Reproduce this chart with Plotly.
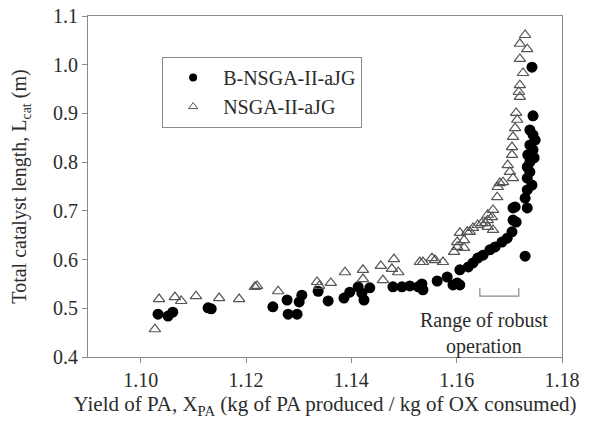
import plotly.graph_objects as go

# B-NSGA-II-aJG (filled circles)
b_x = [1.1033, 1.1052, 1.1061, 1.1128, 1.1134, 1.1251, 1.1278, 1.1280, 1.1297, 1.1301,
       1.1306, 1.1337, 1.1356, 1.1386, 1.1397, 1.1413, 1.1420, 1.1424, 1.1435, 1.1479,
       1.1496, 1.1511, 1.1527, 1.1534, 1.1536, 1.1563, 1.1582, 1.1593, 1.1601, 1.1606,
       1.1606, 1.1622, 1.1631, 1.1640, 1.1650, 1.1663, 1.1673, 1.1686, 1.1696, 1.1705,
       1.1713, 1.1711, 1.1707, 1.1707, 1.1734, 1.1730, 1.1743, 1.1745, 1.1739, 1.1745,
       1.1749, 1.1739, 1.1745, 1.1735, 1.1747, 1.1739, 1.1734, 1.1739, 1.1734, 1.1743,
       1.1734, 1.1730]
b_y = [0.488, 0.484, 0.492, 0.501, 0.499, 0.503, 0.517, 0.488, 0.488, 0.513,
       0.527, 0.535, 0.515, 0.521, 0.533, 0.544, 0.531, 0.517, 0.542, 0.544,
       0.544, 0.546, 0.544, 0.550, 0.538, 0.556, 0.564, 0.548, 0.552, 0.548,
       0.579, 0.585, 0.593, 0.603, 0.609, 0.620, 0.626, 0.636, 0.644, 0.657,
       0.677, 0.708, 0.706, 0.681, 0.706, 0.607, 0.995, 0.895, 0.866, 0.856,
       0.845, 0.835, 0.825, 0.815, 0.809, 0.800, 0.790, 0.780, 0.767, 0.753,
       0.743, 0.726]

# NSGA-II-aJG (open triangles)
n_x = [1.1027, 1.1035, 1.1065, 1.1077, 1.1105, 1.1149, 1.1187, 1.1217, 1.1221, 1.1261,
       1.1335, 1.1339, 1.1361, 1.1388, 1.1422, 1.1422, 1.1456, 1.1460, 1.1477, 1.1481,
       1.1489, 1.1530, 1.1536, 1.1553, 1.1559, 1.1574, 1.1595, 1.1601, 1.1606, 1.1614,
       1.1620, 1.1625, 1.1631, 1.1640, 1.1648, 1.1654, 1.1659, 1.1667, 1.1669, 1.1669,
       1.1677, 1.1678, 1.1682, 1.1688, 1.1697, 1.1701, 1.1707, 1.1705, 1.1705, 1.1707,
       1.1711, 1.1715, 1.1713, 1.1720, 1.1718, 1.1720, 1.1726, 1.1720, 1.1734, 1.1720,
       1.1730, 1.1659, 1.1659, 1.1601, 1.1614]
n_y = [0.457, 0.519, 0.523, 0.515, 0.525, 0.521, 0.519, 0.544, 0.546, 0.535,
       0.554, 0.546, 0.552, 0.574, 0.579, 0.560, 0.587, 0.558, 0.581, 0.601,
       0.574, 0.595, 0.595, 0.603, 0.599, 0.595, 0.616, 0.626, 0.655, 0.640,
       0.657, 0.657, 0.665, 0.671, 0.675, 0.675, 0.681, 0.687, 0.702, 0.661,
       0.728, 0.749, 0.757, 0.759, 0.794, 0.780, 0.767, 0.815, 0.831, 0.852,
       0.870, 0.887, 0.901, 0.934, 0.944, 0.958, 0.983, 1.012, 1.032, 1.043,
       1.061, 0.692, 0.667, 0.636, 0.624]

x_ticks = [1.10, 1.12, 1.14, 1.16, 1.18]
y_ticks = [0.4, 0.5, 0.6, 0.7, 0.8, 0.9, 1.0, 1.1]

FONT = "Liberation Serif, Times New Roman, serif"
TXT = "#2b2b2b"
AX = "#8a8a8a"
FS = 20

fig = go.Figure()
fig.add_trace(go.Scatter(x=b_x, y=b_y, mode="markers", showlegend=False,
                         marker=dict(symbol="circle", size=11, color="black")))
fig.add_trace(go.Scatter(x=n_x, y=n_y, mode="markers", showlegend=False,
                         marker=dict(symbol="triangle-up-open", size=10, color="#555555",
                                     line=dict(width=1.2, color="#555555"))))
# legend entries with smaller symbols
fig.add_trace(go.Scatter(x=[None], y=[None], mode="markers", name="B-NSGA-II-aJG",
                         marker=dict(symbol="circle", size=8, color="black")))
fig.add_trace(go.Scatter(x=[None], y=[None], mode="markers", name="NSGA-II-aJG",
                         marker=dict(symbol="triangle-up-open", size=8, color="#555555",
                                     line=dict(width=1, color="#555555"))))

axis_common = dict(showline=True, linecolor=AX, linewidth=1.2, mirror=True,
                   ticks="outside", ticklen=5, tickcolor=AX, showgrid=False,
                   zeroline=False, automargin=False,
                   tickfont=dict(family=FONT, size=FS, color=TXT))

fig.update_xaxes(range=[1.09, 1.18], tickvals=x_ticks,
                 ticktext=[f"{v:.2f}" for v in x_ticks],
                 title=dict(text="Yield of PA, X<sub>PA</sub> (kg of PA produced / kg of OX consumed)",
                            font=dict(family=FONT, size=21, color=TXT), standoff=6),
                 **axis_common)
fig.update_yaxes(range=[0.4, 1.1], tickvals=y_ticks,
                 ticktext=[f"{v:.1f}" for v in y_ticks],
                 title=dict(text="Total catalyst length, L<sub>cat</sub> (m)",
                            font=dict(family=FONT, size=FS, color=TXT), standoff=20),
                 **axis_common)

# range bracket
bx0, bx1, by0, by1 = 1.1644, 1.1718, 0.525, 0.5417
fig.add_shape(type="path", xref="x", yref="y",
              path=f"M {bx0},{by1} L {bx0},{by0} L {bx1},{by0} L {bx1},{by1}",
              line=dict(color=AX, width=1.2))
fig.add_annotation(x=1.1652, y=0.449, xref="x", yref="y", showarrow=False,
                   text="Range of robust<br>operation", align="center",
                   font=dict(family=FONT, size=FS, color=TXT))

fig.update_layout(
    width=600, height=435,
    margin=dict(l=88, r=38, t=16, b=78),
    paper_bgcolor="white", plot_bgcolor="white",
    legend=dict(x=0.156, y=0.88, xanchor="left", yanchor="top",
                bordercolor=AX, borderwidth=1.2, bgcolor="white",
                font=dict(family=FONT, size=FS, color=TXT),
                tracegroupgap=0, itemwidth=50),
)

fig.write_html("out.html", config={"displayModeBar": False},
               post_script="document.body.style.margin='0';")
